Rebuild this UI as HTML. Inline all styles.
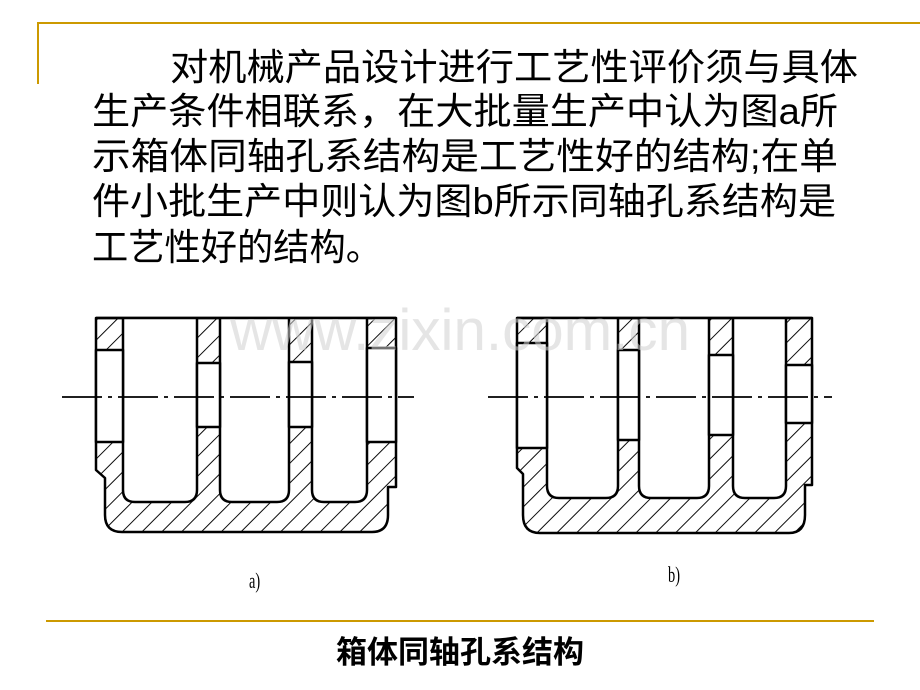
<!DOCTYPE html>
<html><head><meta charset="utf-8"><style>html,body{margin:0;padding:0;background:#fff}svg{display:block}</style></head>
<body>
<svg width="920" height="690" viewBox="0 0 920 690" xmlns="http://www.w3.org/2000/svg">
<defs>
<pattern id="h" patternUnits="userSpaceOnUse" width="14" height="14" patternTransform="rotate(45)">
<rect width="14" height="14" fill="#fff"/>
<line x1="0" y1="0" x2="0" y2="14" stroke="#000" stroke-width="1.9"/>
</pattern>
</defs>
<line x1="38" y1="23" x2="920" y2="23" stroke="#cc9900" stroke-width="2"/>
<line x1="38" y1="22" x2="38" y2="84" stroke="#cc9900" stroke-width="2"/>
<line x1="46" y1="621" x2="874" y2="621" stroke="#cc9900" stroke-width="2"/>
<g font-family="'Liberation Sans','Noto Sans CJK SC',sans-serif" font-size="37" fill="#000">
<text x="170" y="80" textLength="688" lengthAdjust="spacingAndGlyphs">对机械产品设计进行工艺性评价须与具体</text>
<text x="92" y="124" textLength="746" lengthAdjust="spacingAndGlyphs">生产条件相联系，在大批量生产中认为图a所</text>
<text x="92" y="169" textLength="746" lengthAdjust="spacingAndGlyphs">示箱体同轴孔系结构是工艺性好的结构;在单</text>
<text x="92" y="214" textLength="744" lengthAdjust="spacingAndGlyphs">件小批生产中则认为图b所示同轴孔系结构是</text>
<text x="92" y="260" textLength="290" lengthAdjust="spacingAndGlyphs">工艺性好的结构。</text>
</g>
<text x="460" y="663" text-anchor="middle" font-family="'Noto Sans CJK SC',sans-serif" font-weight="bold" font-size="31" fill="#000">箱体同轴孔系结构</text>

<g stroke="#000" stroke-width="2.5" stroke-linejoin="round">
<path d="M96,318 H396 V487 H388 V515 Q388,532 372,532 H122 Q105,532 105,515 V478 L96,470 Z" fill="url(#h)"/>
<path d="M123,318 V490 Q123,502 135,502 H185 Q197,502 197,490 V318" fill="#fff"/>
<path d="M220,318 V490 Q220,502 232,502 H277 Q289,502 289,490 V318" fill="#fff"/>
<path d="M312,318 V490 Q312,502 324,502 H355 Q367,502 367,490 V318" fill="#fff"/>
<rect x="96" y="350" width="27" height="92" fill="#fff"/>
<rect x="197" y="363" width="23" height="64" fill="#fff"/>
<rect x="289" y="362" width="23" height="65" fill="#fff"/>
<rect x="367" y="348" width="29" height="94" fill="#fff"/>
<line x1="96" y1="318" x2="396" y2="318"/>
<path d="M517,318 H812 V485 H805 V515 Q805,533 789,533 H540 Q523,533 523,515 V474 L517,468 Z" fill="url(#h)"/>
<path d="M547,318 V486 Q547,498 559,498 H606 Q618,498 618,486 V318" fill="#fff"/>
<path d="M639,318 V486 Q639,498 651,498 H697 Q709,498 709,486 V318" fill="#fff"/>
<path d="M733,318 V486 Q733,498 745,498 H774 Q786,498 786,486 V318" fill="#fff"/>
<rect x="517" y="343" width="30" height="105" fill="#fff"/>
<rect x="618" y="350" width="21" height="90" fill="#fff"/>
<rect x="709" y="355" width="24" height="80" fill="#fff"/>
<rect x="786" y="365" width="26" height="58" fill="#fff"/>
<line x1="517" y1="318" x2="812" y2="318"/>
</g>
<g stroke="#000" stroke-width="1.8">
<line x1="62" y1="397" x2="414" y2="397" stroke-dasharray="40,6,4,6"/>
<line x1="488" y1="397" x2="832" y2="397" stroke-dasharray="40,6,4,6"/>
</g>
<text x="230" y="350" textLength="460" lengthAdjust="spacingAndGlyphs" font-family="'Liberation Sans',sans-serif" font-size="58" fill="#cfcfcf" fill-opacity="0.55">www.zixin.com.cn</text>
<text transform="translate(249,588) scale(0.8,1.25)" font-family="'Liberation Serif',serif" font-size="18" fill="#000">a)</text>
<text transform="translate(668,582) scale(0.8,1.25)" font-family="'Liberation Serif',serif" font-size="18" fill="#000">b)</text>
</svg>
</body></html>
